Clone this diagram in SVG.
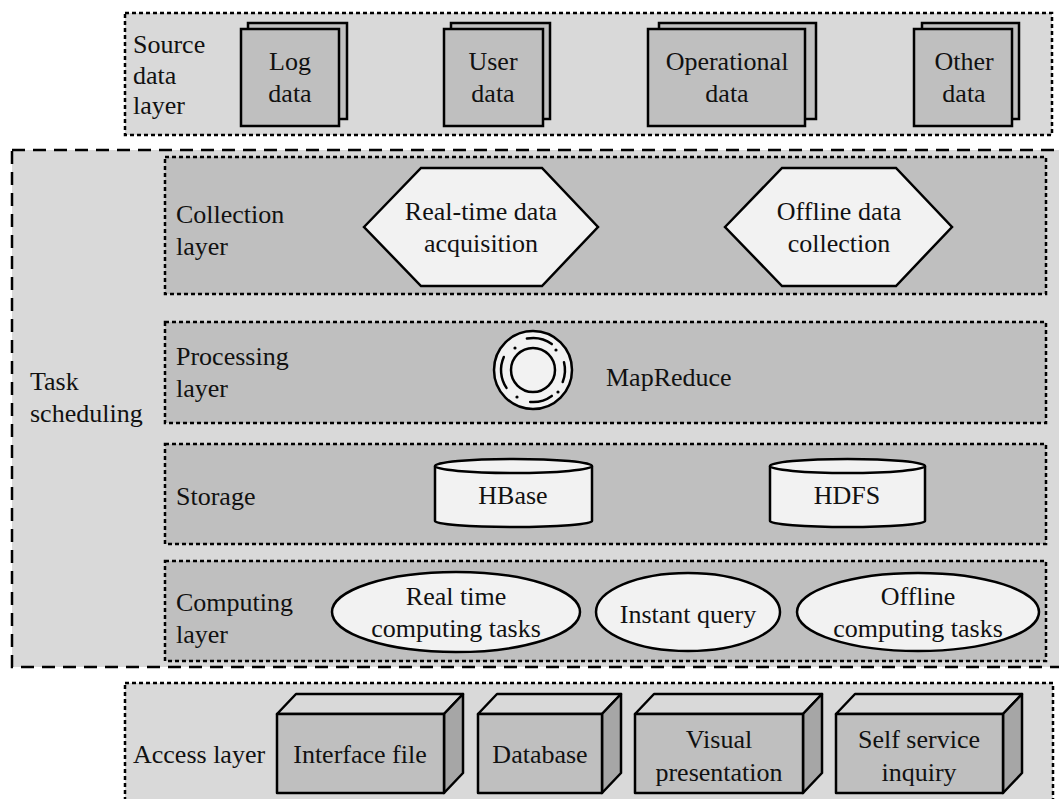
<svg xmlns="http://www.w3.org/2000/svg" width="1059" height="799" viewBox="0 0 1059 799">
<style>
text{font-family:'Liberation Serif','DejaVu Serif',serif;font-size:26px;fill:#111}
.c{text-anchor:middle}
.outer{fill:#d9d9d9;stroke:#000;stroke-width:2.5;stroke-dasharray:4 3}
.task{fill:#d9d9d9;stroke:#000;stroke-width:2.5;stroke-dasharray:13 8}
.layer{fill:#bfbfbf;stroke:#000;stroke-width:2.5;stroke-dasharray:4 3}
.doc{fill:#bfbfbf;stroke:#000;stroke-width:2.5}
.lt{fill:#f2f2f2;stroke:#000;stroke-width:2.5}
.front{fill:#bfbfbf;stroke:#000;stroke-width:2.5;stroke-linejoin:round}
.top{fill:#d9d9d9;stroke:#000;stroke-width:2.5;stroke-linejoin:round}
.side{fill:#a6a6a6;stroke:#000;stroke-width:2.5;stroke-linejoin:round}
.arc{fill:none;stroke:#000;stroke-width:2.5;stroke-linecap:round}
</style>
<rect width="1059" height="799" fill="#fff"/>
<g font-family="Liberation Serif, DejaVu Serif, serif">
<g id="source-layer">
<rect class="outer" x="125" y="13" width="927" height="122"/>
<text x="133" y="53">Source</text><text x="133" y="84">data</text><text x="133" y="114">layer</text>
</g>
<g id="log-data">
<rect class="doc" x="248" y="23" width="99" height="96"/>
<rect class="doc" x="241" y="29" width="98" height="97"/>
<text class="c" x="290" y="70">Log</text><text class="c" x="290" y="102">data</text>
</g>
<g id="user-data">
<rect class="doc" x="451" y="23" width="99" height="96"/>
<rect class="doc" x="444" y="29" width="99" height="97"/>
<text class="c" x="493" y="70">User</text><text class="c" x="493" y="102">data</text>
</g>
<g id="operational-data">
<rect class="doc" x="659" y="23" width="157" height="96"/>
<rect class="doc" x="648" y="29" width="157" height="97"/>
<text class="c" x="727" y="70">Operational</text><text class="c" x="727" y="102">data</text>
</g>
<g id="other-data">
<rect class="doc" x="922" y="23" width="97" height="96"/>
<rect class="doc" x="914" y="29" width="98" height="97"/>
<text class="c" x="964" y="70">Other</text><text class="c" x="964" y="102">data</text>
</g>

<g id="task-scheduling">
<rect class="task" x="12" y="150" width="1065" height="517"/>
<text x="30" y="390">Task</text><text x="30" y="422">scheduling</text>
</g>

<g id="collection-layer">
<rect class="layer" x="165" y="157" width="881" height="137"/>
<text x="176" y="223">Collection</text><text x="176" y="255">layer</text>
</g>
<g id="realtime-acquisition">
<polygon class="lt" points="364,227 421,168 542,168 598,227 542,286 421,286"/>
<text class="c" x="481" y="220">Real-time data</text><text class="c" x="481" y="252">acquisition</text>
</g>
<g id="offline-collection">
<polygon class="lt" points="725,227 782,168 896,168 952,227 896,286 782,286"/>
<text class="c" x="839" y="220">Offline data</text><text class="c" x="839" y="252">collection</text>
</g>

<g id="processing-layer">
<rect class="layer" x="165" y="322" width="881" height="101"/>
<text x="176" y="365">Processing</text><text x="176" y="397">layer</text>
</g>
<g id="mapreduce">
<circle class="lt" cx="533" cy="370" r="39"/>
<circle class="lt" cx="533" cy="370" r="22"/>
<path class="arc" d="M526.9,338.6 A32,32 0 0 1 551.8,344.1"/>
<path class="arc" d="M564,362.3 A32,32 0 0 1 562.7,382"/>
<path class="arc" d="M551.8,395.9 A32,32 0 0 1 530.2,401.9"/>
<path class="arc" d="M506.5,387.9 A32,32 0 0 1 503.8,357"/>
<circle cx="515" cy="348" r="1.6" fill="#000"/>
<circle cx="556" cy="350" r="1.6" fill="#000"/>
<circle cx="517" cy="397" r="1.6" fill="#000"/>
<circle cx="558" cy="392" r="1.6" fill="#000"/>
<text x="606" y="386">MapReduce</text>
</g>

<g id="storage-layer">
<rect class="layer" x="165" y="444" width="881" height="100"/>
<text x="176" y="505">Storage</text>
</g>
<g id="hbase">
<path class="lt" d="M435,466 L435,521 A78.5,6 0 0 0 592,521 L592,466"/>
<ellipse class="lt" cx="513.5" cy="466" rx="78.5" ry="7"/>
<text class="c" x="513" y="504">HBase</text>
</g>
<g id="hdfs">
<path class="lt" d="M770,466 L770,521 A77.5,6 0 0 0 925,521 L925,466"/>
<ellipse class="lt" cx="847.5" cy="466" rx="77.5" ry="7"/>
<text class="c" x="847" y="504">HDFS</text>
</g>

<g id="computing-layer">
<rect class="layer" x="165" y="561" width="881" height="100"/>
<text x="176" y="611">Computing</text><text x="176" y="643">layer</text>
</g>
<g id="realtime-computing">
<ellipse class="lt" cx="456" cy="612" rx="124" ry="40"/>
<text class="c" x="456" y="605">Real time</text><text class="c" x="456" y="637">computing tasks</text>
</g>
<g id="instant-query">
<ellipse class="lt" cx="688" cy="612" rx="92" ry="39"/>
<text class="c" x="688" y="623">Instant query</text>
</g>
<g id="offline-computing">
<ellipse class="lt" cx="918" cy="612" rx="121" ry="39"/>
<text class="c" x="918" y="605">Offline</text><text class="c" x="918" y="637">computing tasks</text>
</g>

<g id="access-layer">
<rect class="outer" x="125" y="683" width="928" height="125"/>
<text x="133" y="763">Access layer</text>
</g>
<g id="interface-file">
<polygon class="top" points="277,714 296,694 463,694 444,714"/>
<polygon class="side" points="444,714 463,694 463,773 444,793"/>
<rect class="front" x="277" y="714" width="167" height="79"/>
<text class="c" x="360" y="763">Interface file</text>
</g>
<g id="database">
<polygon class="top" points="478,714 497,694 621,694 602,714"/>
<polygon class="side" points="602,714 621,694 621,773 602,793"/>
<rect class="front" x="478" y="714" width="124" height="79"/>
<text class="c" x="540" y="763">Database</text>
</g>
<g id="visual-presentation">
<polygon class="top" points="635,714 654,694 822,694 803,714"/>
<polygon class="side" points="803,714 822,694 822,773 803,793"/>
<rect class="front" x="635" y="714" width="168" height="79"/>
<text class="c" x="719" y="748">Visual</text><text class="c" x="719" y="781">presentation</text>
</g>
<g id="self-service-inquiry">
<polygon class="top" points="836,714 855,694 1022,694 1003,714"/>
<polygon class="side" points="1003,714 1022,694 1022,773 1003,793"/>
<rect class="front" x="836" y="714" width="167" height="79"/>
<text class="c" x="919" y="748">Self service</text><text class="c" x="919" y="781">inquiry</text>
</g>
</g>
<g id="connectors"/>
</svg>
